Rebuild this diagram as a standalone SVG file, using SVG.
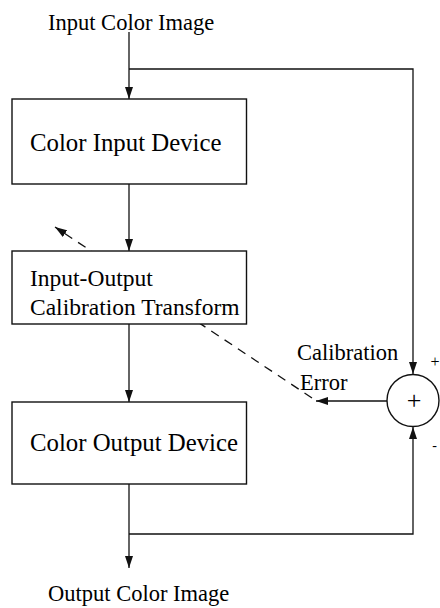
<svg xmlns="http://www.w3.org/2000/svg" width="440" height="608" viewBox="0 0 440 608">
  <style>
    .box { fill: #ffffff; stroke: #111111; stroke-width: 1.4; }
    .wire { fill: none; stroke: #111111; stroke-width: 1.3; }
    .dash { fill: none; stroke: #111111; stroke-width: 1.3; stroke-dasharray: 9 7; }
    text { fill: #000000; font-family: 'Liberation Serif', 'Times New Roman', Times, serif; }
  </style>
  <defs>
    <marker id="arrow" viewBox="0 0 12 8" refX="12" refY="4" markerWidth="12" markerHeight="8" markerUnits="userSpaceOnUse" orient="auto">
      <path d="M0,0 L12,4 L0,8 Z" fill="#111111"/>
    </marker>
  </defs>
  <rect width="440" height="608" fill="#ffffff"/>

  <!-- signal paths -->
  <g id="connectors">
    <line class="wire" x1="129" y1="32" x2="129" y2="99" marker-end="url(#arrow)"/>
    <polyline class="wire" points="129,69 413,69 413,374" marker-end="url(#arrow)"/>
    <line class="wire" x1="129" y1="184" x2="129" y2="251" marker-end="url(#arrow)"/>
    <line class="wire" x1="129" y1="324" x2="129" y2="402" marker-end="url(#arrow)"/>
    <line class="wire" x1="129" y1="484" x2="129" y2="568" marker-end="url(#arrow)"/>
    <polyline class="wire" points="129,534 413,534 413,427" marker-end="url(#arrow)"/>
    <line class="wire" x1="387" y1="401" x2="316" y2="401" marker-end="url(#arrow)"/>
    <line class="dash" x1="312" y1="398" x2="55" y2="227" marker-end="url(#arrow)"/>
  </g>

  <g id="input-label">
    <text x="48" y="30" font-size="22.5">Input Color Image</text>
  </g>

  <g id="color-input-device">
    <rect class="box" x="12" y="99" width="234.5" height="85"/>
    <text x="30" y="151" font-size="24.8">Color Input Device</text>
  </g>

  <g id="calibration-transform">
    <rect class="box" x="12" y="251" width="234.5" height="73"/>
    <text x="30" y="286" font-size="23.5">Input-Output</text>
    <text x="30" y="315" font-size="23.5">Calibration Transform</text>
  </g>

  <g id="color-output-device">
    <rect class="box" x="12" y="402" width="234.5" height="82"/>
    <text x="30" y="451" font-size="24.8">Color Output Device</text>
  </g>

  <g id="summing-junction">
    <circle class="box" cx="413" cy="400.5" r="26"/>
    <text x="414" y="409" font-size="26" text-anchor="middle">+</text>
    <text x="435" y="367" font-size="16" text-anchor="middle">+</text>
    <text x="434.5" y="450" font-size="14" text-anchor="middle">-</text>
  </g>

  <g id="error-label">
    <text x="297" y="360" font-size="22.5">Calibration</text>
    <text x="300" y="390" font-size="22.5">Error</text>
  </g>

  <g id="output-label">
    <text x="48" y="601" font-size="22.5">Output Color Image</text>
  </g>
</svg>
